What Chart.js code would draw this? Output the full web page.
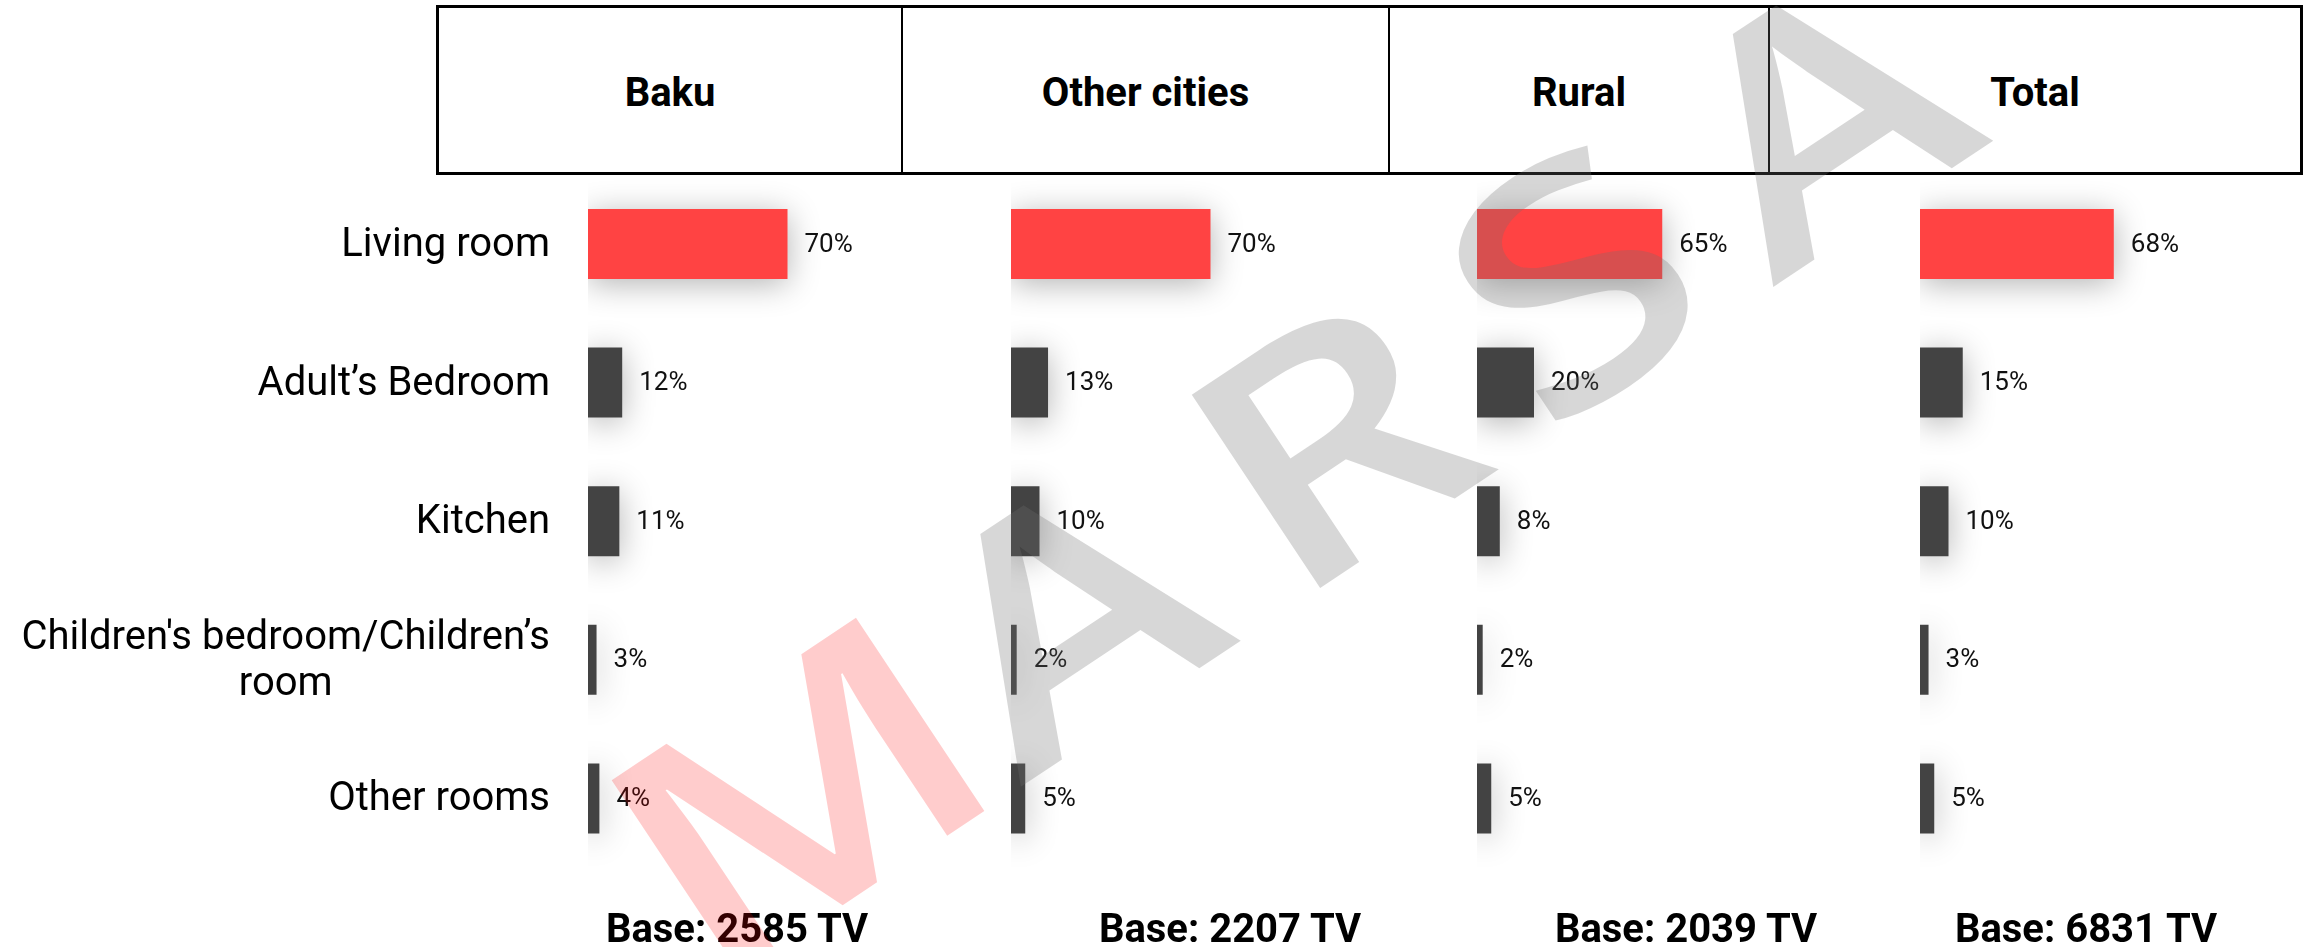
<!DOCTYPE html>
<html>
<head>
<meta charset="utf-8">
<script src="https://cdn.jsdelivr.net/npm/chart.js@4.4.0/dist/chart.umd.min.js"></script>
<style>
html,body{margin:0;padding:0;background:#fff;width:2316px;height:947px;overflow:hidden;font-family:Roboto,sans-serif;}
#header{position:absolute;left:436px;top:5px;width:1867px;height:170px;box-sizing:border-box;border:3px solid #000;display:flex;}
.cell{box-sizing:border-box;height:100%;display:flex;align-items:center;justify-content:center;font:bold 40px Roboto;color:#000;border-right:2px solid #000;padding-top:4px;}
.cell:last-child{border-right:none;}
canvas.panel{position:absolute;top:0;}
.base{position:absolute;top:905px;line-height:47px;font:bold 40px Roboto;color:#000;white-space:nowrap;transform:translateX(-50%);}
#wm{position:absolute;left:0;top:0;pointer-events:none;}
</style>
</head>
<body>
<div id="header"></div>
<canvas id="c0" class="panel" width="1003" height="947" style="left:0px"></canvas>
<canvas id="c1" class="panel" width="385" height="947" style="left:1011px"></canvas>
<canvas id="c2" class="panel" width="385" height="947" style="left:1477px"></canvas>
<canvas id="c3" class="panel" width="385" height="947" style="left:1920px"></canvas>
<div id="bases"></div>
<svg id="wm" width="2316" height="947" xmlns="http://www.w3.org/2000/svg">
  <g transform="translate(1287 610) rotate(-33.6) scale(1.23 1)" font-family="Open Sans" font-weight="600" font-size="325" text-anchor="middle">
    <text y="0"><tspan x="-414.6" fill="rgba(255,0,0,0.2)">M</tspan><tspan x="-152.4" fill="rgba(110,110,110,0.28)">A</tspan><tspan x="105.7" fill="rgba(110,110,110,0.28)">R</tspan><tspan x="340.7" fill="rgba(110,110,110,0.28)">S</tspan><tspan x="582.1" fill="rgba(110,110,110,0.28)">A</tspan></text>
  </g>
</svg>
<script>
// ---- data ----
const categories = ["Living room", "Adult’s Bedroom", "Kitchen", ["Children's bedroom/Children’s", "room"], "Other rooms"];
const regions = ["Baku", "Other cities", "Rural", "Total"];
const bakuValues = [70, 12, 11, 3, 4];
const otherCitiesValues = [70, 13, 10, 2, 5];
const ruralValues = [65, 20, 8, 2, 5];
const totalValues = [68, 15, 10, 3, 5];
const baseLabels = ["Base: 2585 TV", "Base: 2207 TV", "Base: 2039 TV", "Base: 6831 TV"];

// ---- styling / layout ----
const barColors = ["#FF4343", "#434343", "#434343", "#434343", "#434343"];
const headerWidths = [464, 487, 380, 530];
const baseCenters = [737, 1230, 1686, 2086];

const header = document.getElementById('header');
regions.forEach((r, i) => {
  const d = document.createElement('div');
  d.className = 'cell';
  d.style.width = headerWidths[i] + 'px';
  d.textContent = r;
  header.appendChild(d);
});
const bases = document.getElementById('bases');
baseLabels.forEach((b, i) => {
  const d = document.createElement('div');
  d.className = 'base';
  d.style.left = baseCenters[i] + 'px';
  d.textContent = b;
  bases.appendChild(d);
});

const shadowPlugin = {
  id: 'barShadow',
  beforeDatasetDraw(chart) {
    const c = chart.ctx;
    c.save();
    c.shadowColor = 'rgba(0,0,0,0.30)';
    c.shadowBlur = 32;
    c.shadowOffsetX = 0;
    c.shadowOffsetY = 5;
  },
  afterDatasetDraw(chart) { chart.ctx.restore(); }
};

const valueLabelPlugin = {
  id: 'valueLabels',
  afterDatasetsDraw(chart) {
    const ctx = chart.ctx;
    const meta = chart.getDatasetMeta(0);
    const data = chart.data.datasets[0].data;
    ctx.save();
    ctx.font = '26px Roboto';
    ctx.fillStyle = '#111';
    ctx.textAlign = 'left';
    ctx.textBaseline = 'middle';
    meta.data.forEach((bar, i) => {
      ctx.fillText(data[i] + '%', bar.x + 17, bar.y + 1);
    });
    ctx.restore();
  }
};

const categoryLabelPlugin = {
  id: 'categoryLabels',
  afterDraw(chart) {
    const ctx = chart.ctx;
    const y = chart.scales.y;
    const right = chart.chartArea.left - 38;
    ctx.save();
    ctx.font = '40px Roboto';
    ctx.fillStyle = '#000';
    ctx.textBaseline = 'middle';
    ctx.textAlign = 'center';
    chart.data.labels.forEach((lab, i) => {
      const lines = Array.isArray(lab) ? lab : [lab];
      const maxW = Math.max(...lines.map(l => ctx.measureText(l).width));
      const cx = right - maxW / 2;
      const yc = y.getPixelForValue(i);
      lines.forEach((l, j) => {
        ctx.fillText(l, cx, yc + 2 + (j - (lines.length - 1) / 2) * 46);
      });
    });
    ctx.restore();
  }
};

const AREA_WIDTH = 285;
function makeChart(id, values, leftPad, withLabels) {
  const canvas = document.getElementById(id);
  const plugins = [shadowPlugin, valueLabelPlugin];
  if (withLabels) plugins.push(categoryLabelPlugin);
  return new Chart(canvas, {
    type: 'bar',
    data: {
      labels: categories,
      datasets: [{
        data: values,
        backgroundColor: barColors,
        borderWidth: 0,
        barPercentage: 0.505,
        categoryPercentage: 1,
        clip: {left: 0, top: 40, right: 300, bottom: 40}
      }]
    },
    options: {
      indexAxis: 'y',
      responsive: false,
      maintainAspectRatio: false,
      animation: false,
      events: [],
      layout: {padding: {top: 174.7, bottom: 79.3, left: leftPad, right: canvas.width - leftPad - AREA_WIDTH}},
      plugins: {legend: {display: false}, tooltip: {enabled: false}, title: {display: false}},
      scales: {
        x: {display: false, min: 0, max: 100},
        y: {display: false}
      }
    },
    plugins: plugins
  });
}

makeChart('c0', bakuValues, 588, true);
makeChart('c1', otherCitiesValues, 0, false);
makeChart('c2', ruralValues, 0, false);
makeChart('c3', totalValues, 0, false);
</script>
</body>
</html>
